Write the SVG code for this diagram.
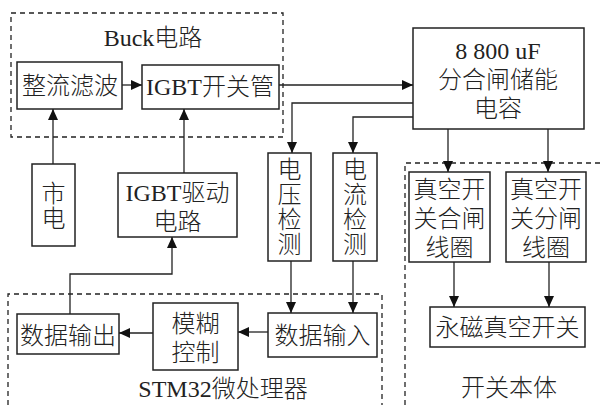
<svg xmlns="http://www.w3.org/2000/svg" width="601" height="405" viewBox="0 0 601 405">
<style>
.b{fill:#fff;stroke:#222;stroke-width:1.5}
.d{fill:none;stroke:#222;stroke-width:1.3;stroke-dasharray:5 4}
.t{font-family:"Liberation Serif","Noto Sans CJK SC",serif;font-size:24px;font-weight:300;fill:#222;text-anchor:middle}
.c{fill:none;stroke:#222;stroke-width:1.3}
</style>
<defs>
<marker id="a" markerWidth="12" markerHeight="10" refX="11" refY="5" orient="auto" markerUnits="userSpaceOnUse">
<path d="M0,0 L11,5 L0,10 Z" fill="#111"/>
</marker>
</defs>
<rect fill="#fff" width="601" height="405"/>
<g id="groups">
<rect class="d" x="11" y="13" width="272" height="124"/>
<text class="t" x="153" y="46">Buck电路</text>
<path class="d" d="M8,405 V294 H382 V405"/>
<text class="t" x="223" y="397">STM32微处理器</text>
<path class="d" d="M405,405 V163 H600"/>
<text class="t" x="509" y="396">开关本体</text>
</g>
<g id="n1"><rect class="b" x="17" y="62" width="105" height="47"/><text class="t" x="70" y="94">整流滤波</text></g>
<g id="n2"><rect class="b" x="142" y="65" width="137" height="44"/><text class="t" x="210" y="95">IGBT开关管</text></g>
<g id="n3"><rect class="b" x="413" y="28" width="171" height="101"/><text class="t" x="498" y="59">8 800 uF</text><text class="t" x="498" y="88">分合闸储能</text><text class="t" x="498" y="117">电容</text></g>
<g id="n4"><rect class="b" x="32" y="164" width="43" height="82"/><text class="t" x="53.5" y="202">市</text><text class="t" x="53.5" y="227">电</text></g>
<g id="n5"><rect class="b" x="118" y="173" width="119" height="64"/><text class="t" x="177.5" y="201">IGBT驱动</text><text class="t" x="177.5" y="230">电路</text></g>
<g id="n6"><rect class="b" x="268" y="153" width="43" height="108"/><text class="t" x="289.5" y="178">电</text><text class="t" x="289.5" y="203">压</text><text class="t" x="289.5" y="228">检</text><text class="t" x="289.5" y="253">测</text></g>
<g id="n7"><rect class="b" x="333" y="153" width="44" height="108"/><text class="t" x="355" y="178">电</text><text class="t" x="355" y="203">流</text><text class="t" x="355" y="228">检</text><text class="t" x="355" y="253">测</text></g>
<g id="n8"><rect class="b" x="409" y="172" width="81" height="90"/><text class="t" x="449.5" y="198">真空开</text><text class="t" x="449.5" y="227">关合闸</text><text class="t" x="449.5" y="256">线圈</text></g>
<g id="n9"><rect class="b" x="506" y="172" width="80" height="90"/><text class="t" x="546" y="198">真空开</text><text class="t" x="546" y="227">关分闸</text><text class="t" x="546" y="256">线圈</text></g>
<g id="n10"><rect class="b" x="430" y="307" width="155" height="40"/><text class="t" x="507.5" y="336">永磁真空开关</text></g>
<g id="n11"><rect class="b" x="268" y="313" width="109" height="44"/><text class="t" x="322.5" y="344">数据输入</text></g>
<g id="n12"><rect class="b" x="153" y="303" width="85" height="67"/><text class="t" x="195.5" y="332">模糊</text><text class="t" x="195.5" y="361">控制</text></g>
<g id="n13"><rect class="b" x="17" y="314" width="102" height="40"/><text class="t" x="68" y="344">数据输出</text></g>
<g id="connectors">
<path class="c" d="M122,85 H142" marker-end="url(#a)"/>
<path class="c" d="M53,164 V109" marker-end="url(#a)"/>
<path class="c" d="M184,173 V109" marker-end="url(#a)"/>
<path class="c" d="M279,85 H413" marker-end="url(#a)"/>
<path class="c" d="M413,103 H292 V153" marker-end="url(#a)"/>
<path class="c" d="M413,117 H353 V153" marker-end="url(#a)"/>
<path class="c" d="M448,129 V172" marker-end="url(#a)"/>
<path class="c" d="M548,129 V172" marker-end="url(#a)"/>
<path class="c" d="M454,262 V307" marker-end="url(#a)"/>
<path class="c" d="M549,262 V307" marker-end="url(#a)"/>
<path class="c" d="M291,261 V313" marker-end="url(#a)"/>
<path class="c" d="M353,261 V313" marker-end="url(#a)"/>
<path class="c" d="M268,332 H238" marker-end="url(#a)"/>
<path class="c" d="M153,333 H119" marker-end="url(#a)"/>
<path class="c" d="M70,314 V274 H172 V237" marker-end="url(#a)"/>
</g>
</svg>
